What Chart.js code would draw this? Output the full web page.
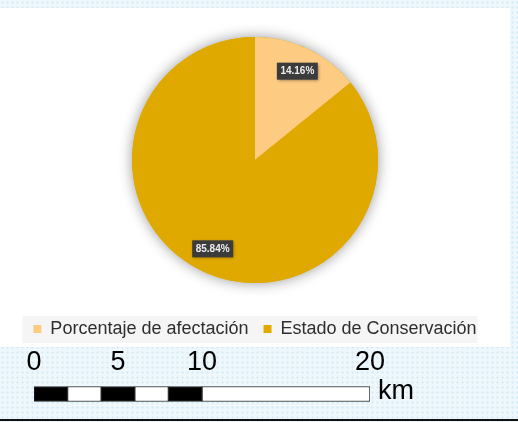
<!DOCTYPE html>
<html>
<head>
<meta charset="utf-8">
<script src="https://cdn.jsdelivr.net/npm/chart.js@4.4.0/dist/chart.umd.min.js"></script>
<style>
    html, body { margin: 0; padding: 0; }
    body {
        width: 518px; height: 422px; overflow: hidden; position: relative;
        background-color: #eef7fc;
        background-image: radial-gradient(#d6eaf5 0.9px, transparent 1.2px);
        background-size: 5px 5px;
        font-family: "Liberation Sans", Arial, sans-serif;
    }
    #panel { position: absolute; left: 0; top: 8px; width: 510px; height: 339px; background: #fff; }
    #pieWrap { position: absolute; left: 0; top: 0; width: 510px; height: 340px; }
    #scale { position: absolute; left: 0; top: 335px; width: 400px; height: 80px; }
    #km { position: absolute; left: 378px; top: 375px; font-size: 27px; color: #000; line-height: 30px; }
    #baseline { position: absolute; left: 0; top: 419px; width: 518px; height: 2px; background: #111; }
</style>
</head>
<body>
<div id="panel"><div id="pieWrap"><canvas id="pieChart"></canvas></div></div>
<div id="scale"><canvas id="scaleChart"></canvas></div>
<div id="km">km</div>
<div id="baseline"></div>
<script>
// Datos del gráfico
const categories = ['Porcentaje de afectación', 'Estado de Conservación'];
const percentages = [14.16, 85.84];
const sliceColors = ['#fecb83', '#e0a900'];

// Barra de escala (km)
const scaleTicks = [0, 5, 10, 20];
const scaleStarts = [0, 2, 4, 6, 8, 10];
const scaleEnds = [2, 4, 6, 8, 10, 20];
const scaleColors = ['#000', '#fff', '#000', '#fff', '#000', '#fff'];

// fondo gris de la leyenda + sombra del pastel
const decorPlugin = {
    id: 'decor',
    beforeDatasetsDraw(chart) {
        const arc = chart.getDatasetMeta(0).data[0];
        if (!arc) return;
        const { x, y, outerRadius } = arc.getProps(['x', 'y', 'outerRadius'], true);
        const ctx = chart.ctx;
        ctx.save();
        ctx.shadowColor = 'rgba(0,0,0,0.4)';
        ctx.shadowBlur = 14;
        ctx.fillStyle = sliceColors[1];
        ctx.beginPath();
        ctx.arc(x, y, outerRadius, 0, Math.PI * 2);
        ctx.fill();
        ctx.restore();
    },
    beforeDraw(chart) {
        const boxes = chart.legend && chart.legend.legendHitBoxes;
        if (!boxes || !boxes.length) return;
        const left = Math.min(...boxes.map(b => b.left));
        const right = Math.max(...boxes.map(b => b.left + b.width));
        const top = Math.min(...boxes.map(b => b.top));
        const bottom = Math.max(...boxes.map(b => b.top + b.height));
        const ctx = chart.ctx;
        ctx.save();
        ctx.fillStyle = '#f5f5f5';
        ctx.fillRect(left - 11, top - 4, right - left + 12, bottom - top + 9);
        ctx.restore();
    }
};

// etiquetas de porcentaje en cajas oscuras
const labelPlugin = {
    id: 'sliceLabels',
    afterDatasetsDraw(chart) {
        const ctx = chart.ctx;
        const meta = chart.getDatasetMeta(0);
        meta.data.forEach((arc, i) => {
            const p = arc.getProps(['x', 'y', 'startAngle', 'endAngle', 'outerRadius'], true);
            const mid = (p.startAngle + p.endAngle) / 2;
            const r = p.outerRadius * 0.8;
            const lx = p.x + Math.cos(mid) * r;
            const ly = p.y + Math.sin(mid) * r;
            const text = percentages[i].toFixed(2) + '%';
            ctx.save();
            ctx.font = 'bold 10px "Liberation Sans", Arial, sans-serif';
            const w = ctx.measureText(text).width + 7;
            const h = 17;
            ctx.shadowColor = 'rgba(0,0,0,0.4)';
            ctx.shadowBlur = 3;
            ctx.shadowOffsetX = 1;
            ctx.shadowOffsetY = 1;
            ctx.fillStyle = '#3b3b3b';
            ctx.fillRect(lx - w / 2, ly - h / 2, w, h);
            ctx.shadowColor = 'transparent';
            ctx.fillStyle = '#eeeeee';
            ctx.textAlign = 'center';
            ctx.textBaseline = 'middle';
            ctx.fillText(text, lx, ly + 0.5);
            ctx.restore();
        });
    }
};

new Chart(document.getElementById('pieChart'), {
    type: 'pie',
    data: {
        labels: categories,
        datasets: [{
            data: percentages,
            backgroundColor: sliceColors,
            borderWidth: 0
        }]
    },
    options: {
        responsive: true,
        maintainAspectRatio: false,
        animation: false,
        layout: { padding: { top: 29, bottom: 0 } },
        plugins: {
            legend: {
                position: 'bottom',
                // título vacío usado como espacio sobre la leyenda
                title: { display: true, text: ' ', font: { size: 1, lineHeight: 1 }, padding: { top: 21, bottom: 0 } },
                labels: {
                    boxWidth: 8,
                    boxHeight: 8,
                    padding: 15,
                    color: '#2e2e2e',
                    font: { family: '"Liberation Sans", Arial, sans-serif', size: 18 }
                }
            },
            tooltip: { enabled: false }
        }
    },
    plugins: [decorPlugin, labelPlugin]
});

new Chart(document.getElementById('scaleChart'), {
    type: 'bar',
    data: {
        labels: ['km'],
        datasets: scaleStarts.map((s, i) => ({
            data: [[s, scaleEnds[i]]],
            backgroundColor: scaleColors[i],
            borderColor: '#222',
            borderWidth: 1,
            borderSkipped: false,
            grouped: false,
            barThickness: 15
        }))
    },
    options: {
        indexAxis: 'y',
        responsive: true,
        maintainAspectRatio: false,
        animation: false,
        layout: { padding: { left: 34, right: 30, top: 0, bottom: 8 } },
        scales: {
            x: {
                position: 'top',
                min: 0,
                max: 20,
                afterBuildTicks(axis) { axis.ticks = scaleTicks.map(v => ({ value: v })); },
                afterFit(axis) { axis.height = 46; },
                grid: { display: false, drawTicks: false },
                border: { display: false },
                ticks: {
                    color: '#000',
                    padding: 2,
                    maxRotation: 0,
                    font: { family: '"Liberation Sans", Arial, sans-serif', size: 27 }
                }
            },
            y: { display: false }
        },
        plugins: { legend: { display: false }, tooltip: { enabled: false } }
    }
});
</script>
</body>
</html>
